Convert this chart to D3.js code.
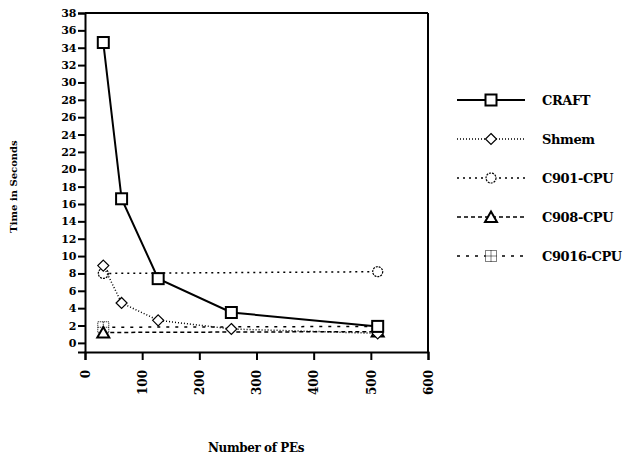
<!DOCTYPE html>
<html>
<head>
<meta charset="utf-8">
<script src="https://cdn.jsdelivr.net/npm/d3@7"></script>
<style>
  html, body { margin: 0; padding: 0; background: #fff; }
  svg { display: block; }
  text { font-family: "DejaVu Serif", "Liberation Serif", serif; font-weight: bold; fill: #000; }
</style>
</head>
<body>
<svg id="chart" width="625" height="463"></svg>
<script>
// Number of processing elements on the x axis
const pes = [32, 64, 128, 256, 512];
const pesEnds = [32, 512];

// Run times in seconds
const craft = [34.6, 16.6, 7.4, 3.5, 1.9];
const shmem = [8.9, 4.6, 2.6, 1.6, 1.1];
const c901 = [8.0, 8.2];
const c908 = [1.2, 1.3];
const c9016 = [1.8, 1.9];

const xTicks = [0, 100, 200, 300, 400, 500, 600];
const yTicks = d3.range(0, 40, 2);

const seriesNames = ["CRAFT", "Shmem", "C901-CPU", "C908-CPU", "C9016-CPU"];

const svg = d3.select("#chart");

const x = d3.scaleLinear().domain([0, 600]).range([85, 428]);
const y = d3.scaleLinear().domain([-1.05, 38]).range([352, 13]);

// Frame: top and right edges of the plot box
svg.append("line").attr("x1", x(0)).attr("x2", x(600)).attr("y1", y(38)).attr("y2", y(38))
  .attr("stroke", "#000").attr("stroke-width", 2);
svg.append("line").attr("x1", x(600)).attr("x2", x(600)).attr("y1", y(38)).attr("y2", y(-1.05))
  .attr("stroke", "#000").attr("stroke-width", 2);

// Y axis
const yAxis = svg.append("g").attr("transform", `translate(${x(0)},0)`)
  .call(d3.axisLeft(y).tickValues(yTicks).tickSizeOuter(0).tickSize(7).tickPadding(2));
yAxis.select(".domain").attr("stroke-width", 2);
yAxis.selectAll(".tick line").attr("stroke-width", 2);
yAxis.selectAll("text").style("font-size", "11px").style("letter-spacing", "-0.3px");

// X axis
const xAxis = svg.append("g").attr("transform", `translate(0,${y(-1.05)})`)
  .call(d3.axisBottom(x).tickValues(xTicks).tickSizeOuter(0).tickSize(8));
xAxis.select(".domain").attr("stroke-width", 2);
xAxis.selectAll(".tick line").attr("stroke-width", 2);
xAxis.selectAll("text")
  .style("font-size", "12px")
  .attr("text-anchor", "end")
  .attr("dy", "0.35em")
  .attr("transform", "translate(0,10) rotate(-90)")
  .attr("x", -8).attr("y", 0);

// Axis titles
svg.append("text").attr("transform", `translate(17,${(13 + 352) / 2 + 4}) rotate(-90)`)
  .attr("text-anchor", "middle").style("font-size", "10px").text("Time in Seconds");
svg.append("text").attr("x", 256).attr("y", 452)
  .attr("text-anchor", "middle").style("font-size", "12px").style("letter-spacing", "-0.4px")
  .text("Number of PEs");

// Marker painters
function square(g, cx, cy) {
  g.append("rect").attr("x", cx - 5.5).attr("y", cy - 5.5).attr("width", 11).attr("height", 11)
    .attr("fill", "#fff").attr("stroke", "#000").attr("stroke-width", 2);
}
function diamond(g, cx, cy) {
  g.append("path").attr("d", `M${cx},${cy - 5.5}L${cx + 5.5},${cy}L${cx},${cy + 5.5}L${cx - 5.5},${cy}Z`)
    .attr("fill", "#fff").attr("stroke", "#000").attr("stroke-width", 1.2);
}
function circle(g, cx, cy) {
  g.append("circle").attr("cx", cx).attr("cy", cy).attr("r", 5)
    .attr("fill", "#fff").attr("stroke", "#000").attr("stroke-width", 1.2).attr("stroke-dasharray", "2,1");
}
function triangle(g, cx, cy) {
  g.append("path").attr("d", `M${cx},${cy - 5.5}L${cx + 6},${cy + 5}L${cx - 6},${cy + 5}Z`)
    .attr("fill", "#fff").attr("stroke", "#000").attr("stroke-width", 2);
}
function gridSquare(g, cx, cy) {
  g.append("rect").attr("x", cx - 5.5).attr("y", cy - 5.5).attr("width", 11).attr("height", 11)
    .attr("fill", "#fff").attr("stroke", "#000").attr("stroke-width", 1).attr("stroke-dasharray", "1,1");
  g.append("path").attr("d", `M${cx},${cy - 5.5}V${cy + 5.5}M${cx - 5.5},${cy}H${cx + 5.5}`)
    .attr("stroke", "#000").attr("stroke-width", 1).attr("stroke-dasharray", "1,1");
}

const series = [
  { name: seriesNames[0], xs: pes, ys: craft, dash: null, width: 2, marker: square },
  { name: seriesNames[1], xs: pes, ys: shmem, dash: "1,2", width: 1.5, marker: diamond },
  { name: seriesNames[2], xs: pesEnds, ys: c901, dash: "2,4", width: 1.5, marker: circle },
  { name: seriesNames[3], xs: pesEnds, ys: c908, dash: "4,3", width: 1.5, marker: triangle },
  { name: seriesNames[4], xs: pesEnds, ys: c9016, dash: "3,6", width: 1.5, marker: gridSquare }
];

const line = d3.line().x(d => x(d[0])).y(d => y(d[1]));

// Draw lines first, markers on top (back-to-front by series)
const plot = svg.append("g");
series.slice().reverse().forEach(s => {
  const pts = s.xs.map((v, i) => [v, s.ys[i]]);
  plot.append("path").attr("d", line(pts)).attr("fill", "none")
    .attr("stroke", "#000").attr("stroke-width", s.width)
    .attr("stroke-dasharray", s.dash);
  const mg = plot.append("g");
  pts.forEach(p => s.marker(mg, x(p[0]), y(p[1])));
});

// Legend
const legend = svg.append("g");
series.forEach((s, i) => {
  const ly = 100 + i * 39;
  legend.append("line").attr("x1", 457).attr("x2", 525).attr("y1", ly).attr("y2", ly)
    .attr("stroke", "#000").attr("stroke-width", s.width).attr("stroke-dasharray", s.dash);
  const mg = legend.append("g");
  s.marker(mg, 491, ly);
  legend.append("text").attr("x", 542).attr("y", ly).attr("dy", "0.35em")
    .style("font-size", "13px").style("letter-spacing", "-0.4px").text(s.name);
});
</script>
</body>
</html>
